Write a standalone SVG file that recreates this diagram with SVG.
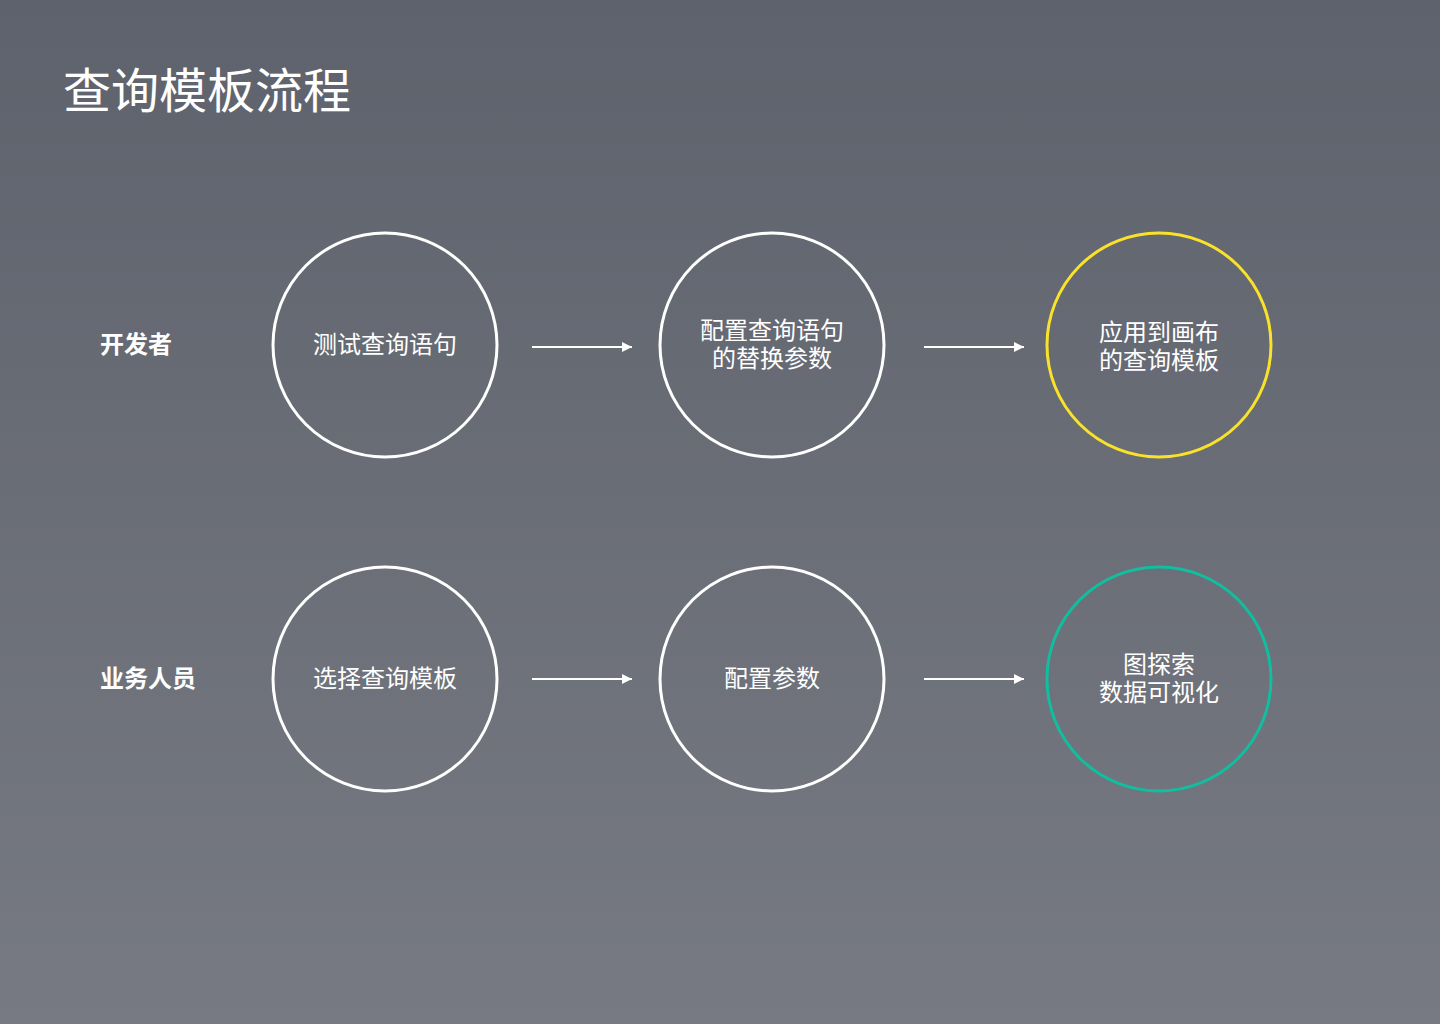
<svg xmlns="http://www.w3.org/2000/svg" width="1440" height="1024" viewBox="0 0 1440 1024">
<defs>
<linearGradient id="bg" x1="0" y1="0" x2="0" y2="1">
<stop offset="0" stop-color="#5e626c"/>
<stop offset="1" stop-color="#777a82"/>
</linearGradient>
<marker id="ah" viewBox="0 0 10 10" refX="10" refY="5" markerWidth="10" markerHeight="10" markerUnits="userSpaceOnUse" orient="auto">
<path d="M0,0 L10,5 L0,10 Z" fill="#ffffff"/>
</marker>
<style>
text{font-family:"Noto Sans CJK SC","Noto Sans",sans-serif;fill:#ffffff;}
.t{font-size:24px;text-anchor:middle;}
.lab{font-size:24px;font-weight:bold;}
.c{fill:none;stroke-width:3;}
.w{stroke:#ffffff;}
.y{stroke:#f8e22a;}
.g{stroke:#0fbf9f;}
.e{stroke:#ffffff;stroke-width:2;fill:none;marker-end:url(#ah);}
</style>
</defs>
<rect width="1440" height="1024" fill="url(#bg)"/>
<text x="63" y="108" font-size="48">查询模板流程</text>
<text class="lab" x="100" y="353">开发者</text>
<text class="lab" x="100" y="687">业务人员</text>
<g id="n1"><circle class="c w" cx="385" cy="345" r="112"/><text class="t" x="385" y="353">测试查询语句</text></g>
<g id="n2"><circle class="c w" cx="772" cy="345" r="112"/><text class="t" x="772" y="339">配置查询语句</text><text class="t" x="772" y="367">的替换参数</text></g>
<g id="n3"><circle class="c y" cx="1159" cy="345" r="112"/><text class="t" x="1159" y="341">应用到画布</text><text class="t" x="1159" y="369">的查询模板</text></g>
<g id="n4"><circle class="c w" cx="385" cy="679" r="112"/><text class="t" x="385" y="687">选择查询模板</text></g>
<g id="n5"><circle class="c w" cx="772" cy="679" r="112"/><text class="t" x="772" y="687">配置参数</text></g>
<g id="n6"><circle class="c g" cx="1159" cy="679" r="112"/><text class="t" x="1159" y="673">图探索</text><text class="t" x="1159" y="701">数据可视化</text></g>
<g id="edges">
<line class="e" x1="532" y1="347" x2="632" y2="347"/>
<line class="e" x1="924" y1="347" x2="1024" y2="347"/>
<line class="e" x1="532" y1="679" x2="632" y2="679"/>
<line class="e" x1="924" y1="679" x2="1024" y2="679"/>
</g>
</svg>
